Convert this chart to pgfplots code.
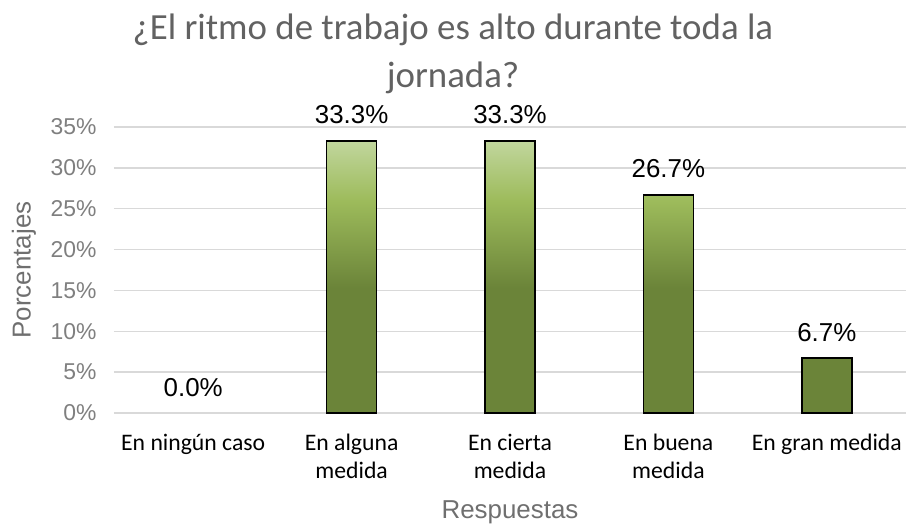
\documentclass[border=0pt]{standalone}
\usepackage{fontspec}
\setmainfont{Liberation Sans}
\newfontfamily\calibri{Carlito}
\usepackage{pgfplots}
\pgfplotsset{compat=1.18}
\usetikzlibrary{calc}
\definecolor{gridc}{HTML}{D9D9D9}
\definecolor{ticklab}{HTML}{7F7F7F}
\definecolor{axtitle}{HTML}{6F6F6F}
\definecolor{titlec}{HTML}{626262}
\definecolor{barlt}{HTML}{C1D69D}
\definecolor{barmid}{HTML}{9DBB5B}
\definecolor{bardk}{HTML}{6B8439}
\pgfdeclareverticalshading{barshade}{100bp}{color(0bp)=(bardk); color(25bp)=(bardk); color(48bp)=(bardk); color(64bp)=(barmid); color(75bp)=(barlt); color(100bp)=(barlt)}
\pgfplotsset{/pgf/number format/assume math mode=true}
\begin{document}
\begin{tikzpicture}
\begin{axis}[
  name=ax,
  scale only axis,
  width=792bp, height=286bp,
  xmin=-0.5, xmax=4.5,
  ymin=0, ymax=35,
  ytick={0,5,...,35},
  xtick={0,1,2,3,4},
  xticklabels={En ningún caso,{En alguna\\medida},{En cierta\\medida},{En buena\\medida},En gran medida},
  ymajorgrids,
  grid style={gridc, line width=1.4bp},
  axis line style={draw=none},
  major tick length=0pt,
  yticklabel={\pgfmathprintnumber{\tick}\%},
  yticklabel style={font=\fontsize{23}{28}\selectfont, text=ticklab, anchor=east, xshift=-14bp},
  xticklabel style={font=\calibri\fontsize{23.8}{28}\selectfont, align=center, text=black, anchor=north, yshift=-18bp},
  nodes near coords={\pgfmathprintnumber[fixed,fixed zerofill,precision=1]{\pgfplotspointmeta}\%},
  every node near coord/.append style={font=\fontsize{26}{30}\selectfont, text=black, inner sep=0pt, yshift=16bp},
  clip=false,
]
\addplot[ybar, bar width=50bp, bar shift=0pt, draw=black, line width=1.6bp, shade, shading=barshade]
  coordinates {(1,33.3) (2,33.3) (3,26.7) (4,6.7)};
\addplot[ybar, bar width=50bp, bar shift=0pt, draw=none, fill=none]
  coordinates {(0,0)};
\end{axis}
\node[anchor=base, text=titlec, font=\calibri\fontsize{37}{46}\selectfont] at ($(ax.south west)+(339bp,373bp)$) {¿El ritmo de trabajo es alto durante toda la};
\node[anchor=base, text=titlec, font=\calibri\fontsize{37}{46}\selectfont] at ($(ax.south west)+(339bp,325bp)$) {jornada?};
\node[text=axtitle, font=\fontsize{26}{30}\selectfont] at ($(ax.south west)+(396bp,-99bp)$) {Respuestas};
\node[text=axtitle, font=\fontsize{26}{30}\selectfont, rotate=90] at ($(ax.south west)+(-90bp,143bp)$) {Porcentajes};
\pgfresetboundingbox
\path ($(ax.south west)+(-114bp,-112bp)$) rectangle ++(906bp,525bp);
\end{tikzpicture}
\end{document}
